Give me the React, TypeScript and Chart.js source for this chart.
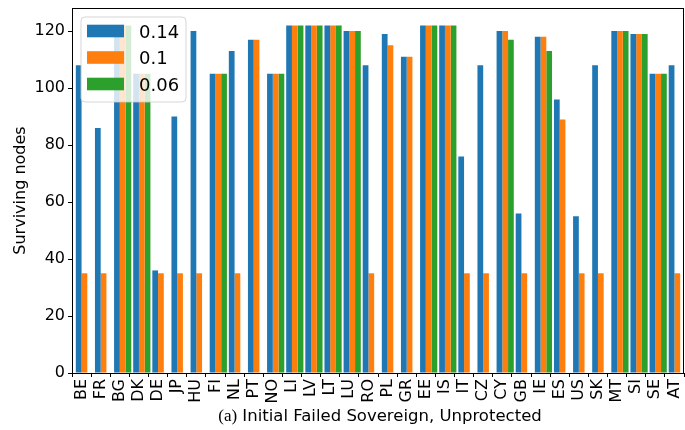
import React, { useEffect, useRef } from 'react';
import { Chart, registerables } from 'chart.js';

Chart.register(...registerables);

const categories = ['BE', 'FR', 'BG', 'DK', 'DE', 'JP', 'HU', 'FI', 'NL', 'PT', 'NO', 'LI', 'LV', 'LT', 'LU', 'RO', 'PL', 'GR', 'EE', 'IS', 'IT', 'CZ', 'CY', 'GB', 'IE', 'ES', 'US', 'SK', 'MT', 'SI', 'SE', 'AT'];
const series014 = [108, 86, 122, 105, 36, 90, 120, 105, 113, 117, 105, 122, 122, 122, 120, 108, 119, 111, 122, 122, 76, 108, 120, 56, 118, 96, 55, 108, 120, 119, 105, 108];
const series010 = [35, 35, 122, 105, 35, 35, 35, 105, 35, 117, 105, 122, 122, 122, 120, 35, 115, 111, 122, 122, 35, 35, 120, 35, 118, 89, 35, 35, 120, 119, 105, 35];
const series006 = [null, null, 122, 105, null, null, null, 105, null, null, 105, 122, 122, 122, 120, null, null, null, 122, 122, null, null, 117, null, 113, null, null, null, 120, 119, 105, null];
const seriesLabels = ['0.14', '0.1', '0.06'];
const seriesColors = ['#1f77b4', '#ff7f0e', '#2ca02c'];
const yTickStep = 20;
const yAxisTitle = 'Surviving nodes';
const xTitlePrefix = '(a)';
const xTitleText = 'Initial Failed Sovereign, Unprotected';

const SANS = '"DejaVu Sans", sans-serif';

const framePlugin = {
  id: 'frameAndTitle',
  afterDatasetsDraw(chart: any) {
    const ctx = chart.ctx;
    const a = chart.chartArea;
    const items = chart.data.datasets.filter((d: any) => d.label);
    const x0 = a.left + 9;
    const y0 = a.top + 9;
    const w = 105;
    const h = 85;
    const r = 4;
    ctx.save();
    ctx.beginPath();
    ctx.moveTo(x0 + r, y0);
    ctx.lineTo(x0 + w - r, y0);
    ctx.quadraticCurveTo(x0 + w, y0, x0 + w, y0 + r);
    ctx.lineTo(x0 + w, y0 + h - r);
    ctx.quadraticCurveTo(x0 + w, y0 + h, x0 + w - r, y0 + h);
    ctx.lineTo(x0 + r, y0 + h);
    ctx.quadraticCurveTo(x0, y0 + h, x0, y0 + h - r);
    ctx.lineTo(x0, y0 + r);
    ctx.quadraticCurveTo(x0, y0, x0 + r, y0);
    ctx.closePath();
    ctx.fillStyle = 'rgba(255,255,255,0.8)';
    ctx.fill();
    ctx.strokeStyle = 'rgba(204,204,204,0.8)';
    ctx.lineWidth = 1;
    ctx.stroke();
    items.forEach((d: any, i: number) => {
      const cy = y0 + 14 + i * 26.5;
      ctx.fillStyle = d.backgroundColor;
      ctx.fillRect(x0 + 6, cy - 6.3, 37, 12.6);
      ctx.fillStyle = '#000';
      ctx.font = 'normal 400 18px "DejaVu Sans"';
      ctx.textBaseline = 'alphabetic';
      ctx.textAlign = 'left';
      ctx.fillText(d.label, x0 + 58, cy + 6.8);
    });
    ctx.restore();
  },
  afterDraw(chart: any) {
    const ctx = chart.ctx;
    const a = chart.chartArea;
    ctx.save();
    ctx.strokeStyle = '#000';
    ctx.lineWidth = 1;
    ctx.beginPath();
    ctx.moveTo(a.left, a.top + 0.5);
    ctx.lineTo(a.right, a.top + 0.5);
    ctx.moveTo(a.right - 0.5, a.top);
    ctx.lineTo(a.right - 0.5, a.bottom);
    ctx.stroke();
    const cx = (a.left + a.right) / 2 + 2;
    const serifFont = 'normal 400 17px "Liberation Serif"';
    const sansFont = 'normal 400 16.5px "DejaVu Sans"';
    ctx.font = serifFont;
    const w1 = ctx.measureText(xTitlePrefix).width;
    ctx.font = sansFont;
    const gap = ctx.measureText(' ').width;
    const w2 = ctx.measureText(xTitleText).width;
    const x = cx - (w1 + gap + w2) / 2;
    const baseY = a.bottom + 48;
    ctx.fillStyle = '#000';
    ctx.textAlign = 'left';
    ctx.textBaseline = 'alphabetic';
    ctx.font = serifFont;
    ctx.fillText(xTitlePrefix, x, baseY);
    ctx.font = sansFont;
    ctx.fillText(xTitleText, x + w1 + gap, baseY);
    ctx.restore();
  },
};

export default function App() {
  const ref = useRef<HTMLCanvasElement>(null);
  useEffect(() => {
    if (!ref.current) return;
    const allVals = [...series014, ...series010, ...(series006.filter((v) => v !== null) as number[])];
    const yMax = Math.max(...allVals) * 1.05;
    const chart = new Chart(ref.current, {
      type: 'bar',
      data: {
        labels: categories,
        datasets: [
          { label: '', data: categories.map(() => null), backgroundColor: 'rgba(0,0,0,0)' },
          { label: seriesLabels[0], data: series014, backgroundColor: seriesColors[0] },
          { label: seriesLabels[1], data: series010, backgroundColor: seriesColors[1] },
          { label: seriesLabels[2], data: series006, backgroundColor: seriesColors[2] },
        ] as any,
      },
      options: {
        animation: false,
        responsive: false,
        devicePixelRatio: 1,
        datasets: { bar: { categoryPercentage: 1.2, barPercentage: 1.0, borderWidth: 0 } },
        layout: { padding: { top: 8, right: 1, left: 0, bottom: 0 } },
        plugins: { legend: { display: false }, tooltip: { enabled: false } },
        scales: {
          x: {
            type: 'category',
            offset: true,
            grid: { display: true, drawOnChartArea: false, drawTicks: true, tickLength: 4, tickColor: '#000', tickWidth: 1 },
            border: { display: true, color: '#000', width: 1 },
            ticks: { color: '#000', font: { family: SANS, size: 16 }, minRotation: 90, maxRotation: 90, autoSkip: false, padding: 2 },
            afterFit: (s: any) => { s.height = 57; s.paddingLeft = 0; s.paddingRight = 0; },
          },
          y: {
            min: 0,
            max: yMax,
            grid: { display: true, drawOnChartArea: false, drawTicks: true, tickLength: 4, tickColor: '#000', tickWidth: 1 },
            border: { display: true, color: '#000', width: 1 },
            ticks: { stepSize: yTickStep, includeBounds: false, color: '#000', font: { family: SANS, size: 16 }, padding: 3 },
            title: { display: true, text: yAxisTitle, color: '#000', font: { family: SANS, size: 16 }, padding: { top: 11, bottom: 0 } },
            afterFit: (s: any) => { s.width = 72; s.paddingTop = 0; s.paddingBottom = 0; },
          },
        },
      } as any,
      plugins: [framePlugin],
    });
    return () => chart.destroy();
  }, []);
  return (
    <div style={{ position: 'fixed', left: 0, top: 0, width: 685, height: 430, background: '#fff' }}>
      <canvas ref={ref} width={685} height={430} />
    </div>
  );
}
